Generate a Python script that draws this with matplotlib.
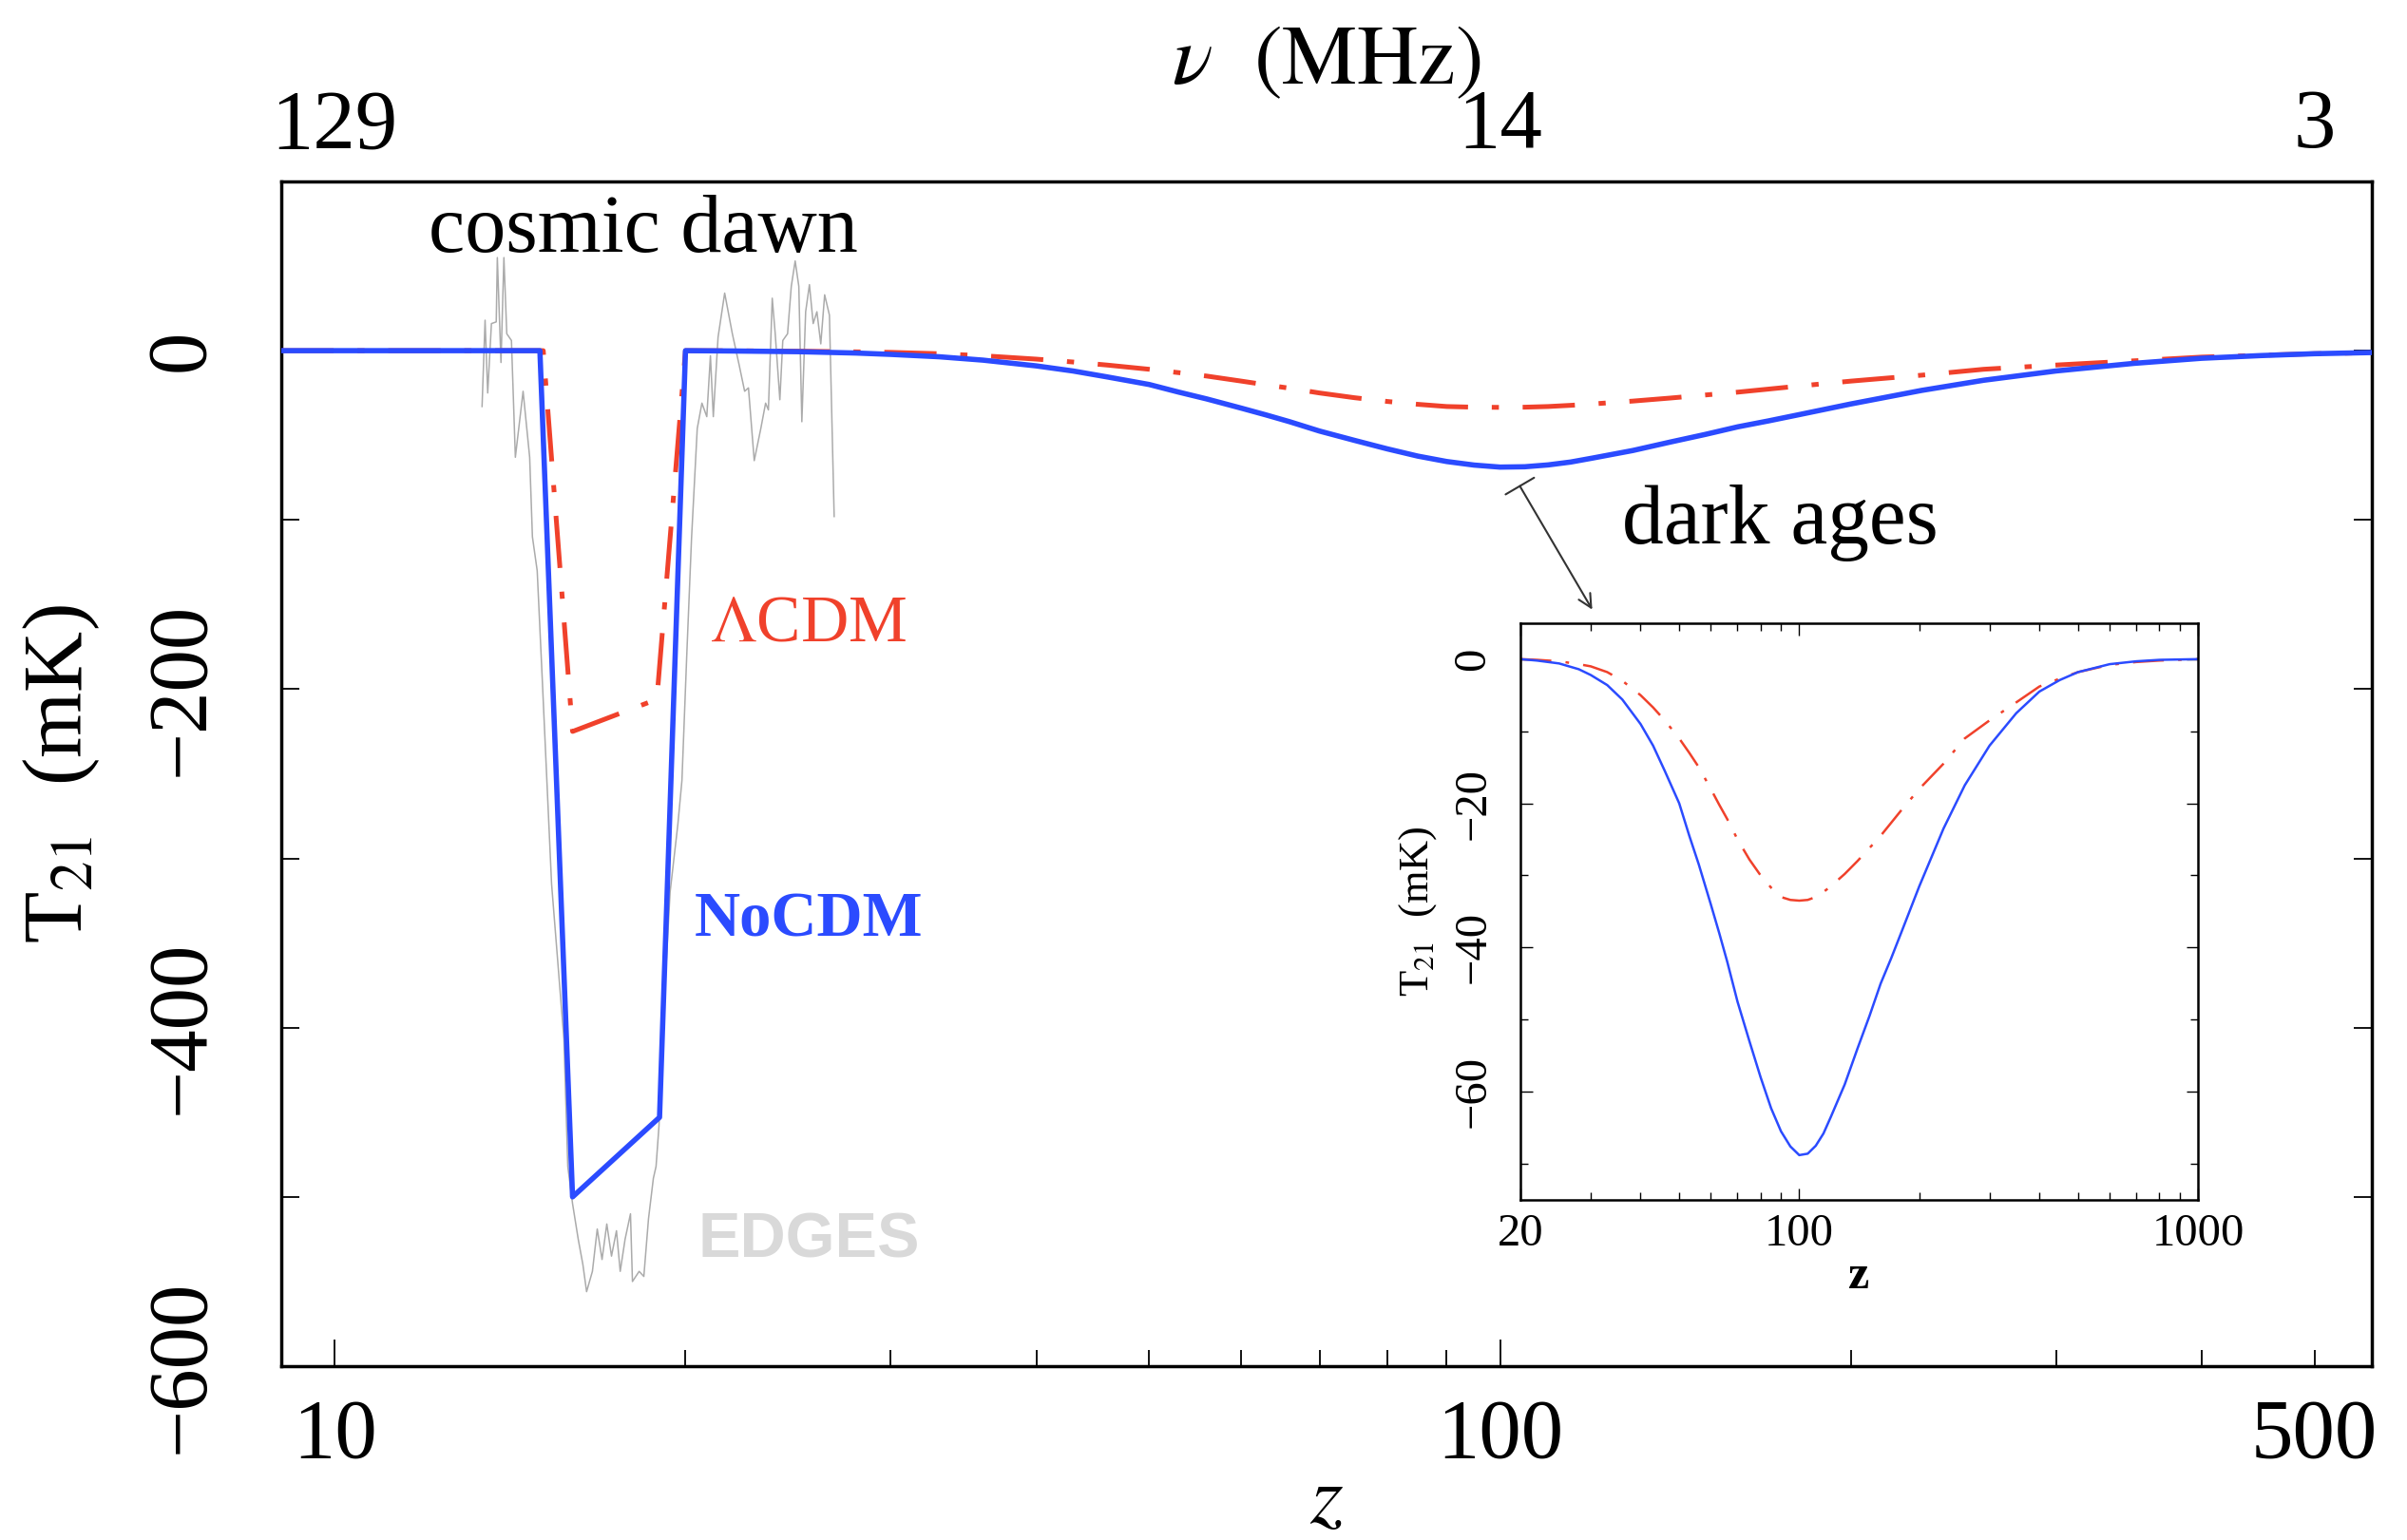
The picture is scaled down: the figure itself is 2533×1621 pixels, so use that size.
import numpy as np
import matplotlib
matplotlib.use("Agg")
import matplotlib.pyplot as plt
from matplotlib.ticker import FixedLocator, FixedFormatter, NullLocator, NullFormatter

plt.rcParams['font.family'] = 'serif'
plt.rcParams['font.serif'] = ['Liberation Serif', 'DejaVu Serif']
plt.rcParams['mathtext.fontset'] = 'stix'

# cosmic dawn part of the models (z, T21 in mK)
z_nocdm_dawn = [9.0, 15.0, 16.0, 19.0]
t_nocdm_dawn = [0.0, 0.0, -500.0, -453.0]
z_lcdm_dawn = [9.0, 15.1, 16.0, 18.9]
t_lcdm_dawn = [0.0, 0.0, -225.0, -206.0]

# dark ages part (shared by main panel and inset)
z_dark = [20, 22, 25, 28, 30, 33, 36, 40, 43, 46, 50, 53, 56, 60, 63, 66, 70, 75,
          80, 85, 90, 95, 100, 105, 110, 115, 120, 130, 140, 150, 160, 170, 180,
          200, 230, 260, 300, 350, 400, 450, 500, 600, 700, 800, 1000]
t_nocdm_dark = [0.0, -0.2, -0.6, -1.4, -2.2, -3.6, -5.6, -9.0, -12.0, -15.5,
                -20.0, -24.5, -28.5, -34.0, -38.0, -42.0, -47.5, -53.0, -58.0,
                -62.3, -65.5, -67.6, -68.8, -68.6, -67.5, -65.8, -63.5, -59.0,
                -54.0, -49.5, -45.0, -41.5, -38.0, -31.5, -23.5, -17.5, -12.0,
                -7.5, -4.5, -2.9, -1.8, -0.7, -0.3, -0.1, 0.0]
t_lcdm_dark = [0.0, -0.1, -0.3, -0.7, -1.0, -1.8, -3.0, -5.0, -6.7, -8.5,
               -11.0, -13.0, -15.0, -18.0, -20.2, -22.2, -25.0, -27.8, -30.0,
               -31.7, -33.0, -33.4, -33.5, -33.4, -33.0, -32.3, -31.5, -29.8,
               -28.0, -26.2, -24.5, -22.7, -21.0, -18.0, -14.5, -11.0, -8.5,
               -6.0, -3.8, -2.7, -1.8, -0.8, -0.4, -0.2, 0.0]

# EDGES measurement
z_edges = [13.38, 13.46, 13.53, 13.63, 13.76, 13.79, 13.89, 13.97, 14.05, 14.18,
           14.29, 14.51, 14.70, 14.78, 14.92, 15.07, 15.35, 15.73, 15.85, 16.00,
           16.18, 16.33, 16.45, 16.64, 16.80, 16.96, 17.12, 17.28, 17.45, 17.58,
           17.75, 17.94, 18.01, 18.25, 18.42, 18.59, 18.77, 18.87, 18.98, 19.12,
           19.40, 19.70, 19.86, 20.05, 20.24, 20.47, 20.66, 20.86, 21.01, 21.13,
           21.33, 21.61, 21.94, 22.23, 22.48, 22.65, 22.91, 23.21, 23.43, 23.56,
           23.74, 23.88, 24.10, 24.24, 24.47, 24.65, 24.84, 25.02, 25.17, 25.36,
           25.55, 25.74, 25.93, 26.13, 26.33, 26.58, 26.83]
t_edges = [-33, 18, -25, 16, 17, 55, -7, 55, 10, 6,
           -63, -24, -63, -110, -130, -194, -315, -407, -482, -504,
           -525, -540, -556, -544, -519, -537, -516, -535, -520, -544,
           -525, -510, -550, -544, -547, -513, -489, -482, -458, -400,
           -320, -280, -254, -180, -111, -46, -31, -39, -3, -39,
           8, 34, 10, -8, -24, -22, -65, -46, -31, -35,
           31, 10, -29, 6, 10, 38, 53, 38, -42, 23,
           39, 16, 23, 4, 33, 21, -98]

z_ticks_main = [10, 100, 500]
z_minor_main = [20, 30, 40, 50, 60, 70, 80, 90, 200, 300, 400, 500]
t_ticks_main = [0, -200, -400, -600]

blue = '#2b4bff'
red = '#f0412b'

z_nocdm = np.array(z_nocdm_dawn + z_dark, dtype=float)
t_nocdm = np.array(t_nocdm_dawn + t_nocdm_dark, dtype=float)
z_lcdm = np.array(z_lcdm_dawn + z_dark, dtype=float)
t_lcdm = np.array(t_lcdm_dawn + t_lcdm_dark, dtype=float)

fig = plt.figure(figsize=(25.33, 16.21), dpi=100)
ax = fig.add_axes([0.1169, 0.1129, 0.8685, 0.7693])

ax.plot(z_edges, t_edges, color='#ababab', lw=1.1, zorder=2)
ax.plot(z_lcdm, t_lcdm, color=red, lw=3.6, ls=(0, (11, 5, 1.5, 5)), zorder=3)
ax.plot(z_nocdm, t_nocdm, color=blue, lw=4.0, zorder=4)

ax.set_xscale('log')
ax.set_xlim(9, 560)
ax.set_ylim(-600, 100)

ax.xaxis.set_major_locator(FixedLocator([10, 100]))
ax.xaxis.set_major_formatter(FixedFormatter(['10', '100']))
ax.xaxis.set_minor_locator(FixedLocator(z_minor_main))
ax.xaxis.set_minor_formatter(FixedFormatter(['' if z != 500 else '500' for z in z_minor_main]))
ax.set_yticks(t_ticks_main)
ax.set_yticklabels([f"{t:d}".replace('-', '\u2212') for t in t_ticks_main])
ax.yaxis.set_minor_locator(FixedLocator([-100, -300, -500]))

ax.tick_params(which='both', direction='in', top=True, right=True,
               labelsize=64, width=1.3)
ax.tick_params(axis='x', which='major', length=20, pad=24)
ax.tick_params(axis='x', which='minor', length=12, pad=24)
ax.tick_params(axis='y', which='both', length=14, pad=46)
for lab in ax.get_yticklabels():
    lab.set_rotation(90)
    lab.set_va('center')
for sp in ax.spines.values():
    sp.set_linewidth(2.5)

ax.set_xlabel(r'$z$', fontsize=64, labelpad=-8)
ax.set_ylabel(r'T$_{21}$  (mK)', fontsize=64, labelpad=32)

# top frequency axis
ax2 = ax.twiny()
ax2.set_xscale('log')
ax2.set_xlim(ax.get_xlim())
ax2.xaxis.set_major_locator(FixedLocator(z_ticks_main))
ax2.xaxis.set_major_formatter(FixedFormatter([f"{1420.0 / (1 + z):.0f}" for z in z_ticks_main]))
ax2.xaxis.set_minor_locator(NullLocator())
ax2.tick_params(axis='x', length=0, labelsize=64, pad=12)
ax2.set_xlabel(r'$\nu$  $\left(\mathrm{MHz}\right)$', fontsize=64, labelpad=4)
for sp in ax2.spines.values():
    sp.set_visible(False)

ax.text(18.4, 70, 'cosmic dawn', fontsize=62, ha='center', va='center')
ax.text(174, -102, 'dark ages', fontsize=63, ha='center', va='center')
ax.text(25.5, -162, r'$\Lambda$CDM', fontsize=50, color=red, ha='center', va='center')
ax.text(25.5, -337, 'NoCDM', fontsize=48, color=blue, fontweight='bold',
        ha='center', va='center')
ax.text(25.5, -526, 'EDGES', fontsize=48, color='#d9d9d9', fontweight='bold',
        family='Liberation Sans', ha='center', va='center')

ax.annotate('', xy=(120, -153), xytext=(104, -80),
            arrowprops=dict(arrowstyle=']->,widthA=0.5,lengthA=0', color='#333333',
                            lw=1.5, shrinkA=0, shrinkB=0, mutation_scale=25))

# inset with the dark ages trough
axi = fig.add_axes([0.6317, 0.2209, 0.2815, 0.3745])
axi.plot(z_dark, t_lcdm_dark, color=red, lw=1.8, ls=(0, (13, 6, 1.5, 6)))
axi.plot(z_dark, t_nocdm_dark, color=blue, lw=1.8)
axi.set_xscale('log')
axi.set_xlim(20, 1000)
axi.set_ylim(-75, 5)
axi.xaxis.set_major_locator(FixedLocator([20, 100, 1000]))
axi.xaxis.set_major_formatter(FixedFormatter(['20', '100', '1000']))
axi.xaxis.set_minor_locator(FixedLocator([30, 40, 50, 60, 70, 80, 90,
                                          200, 300, 400, 500, 600, 700, 800, 900]))
axi.xaxis.set_minor_formatter(NullFormatter())
axi.set_yticks([0, -20, -40, -60])
axi.set_yticklabels(['0', '\u221220', '\u221240', '\u221260'])
axi.yaxis.set_minor_locator(FixedLocator([-10, -30, -50, -70]))
axi.tick_params(which='both', direction='in', top=True, right=True,
                labelsize=35, width=1.0)
axi.tick_params(which='major', length=9)
axi.tick_params(which='minor', length=6)
axi.tick_params(axis='x', pad=10)
axi.tick_params(axis='y', pad=20)
for lab in axi.get_yticklabels():
    lab.set_rotation(90)
    lab.set_va('center')
for sp in axi.spines.values():
    sp.set_linewidth(1.8)
axi.set_xlabel('z', fontsize=36, fontweight='bold', labelpad=0)
axi.set_ylabel(r'T$_{21}$  (mK)', fontsize=32, labelpad=10)

fig.savefig('out.png', dpi=100)
